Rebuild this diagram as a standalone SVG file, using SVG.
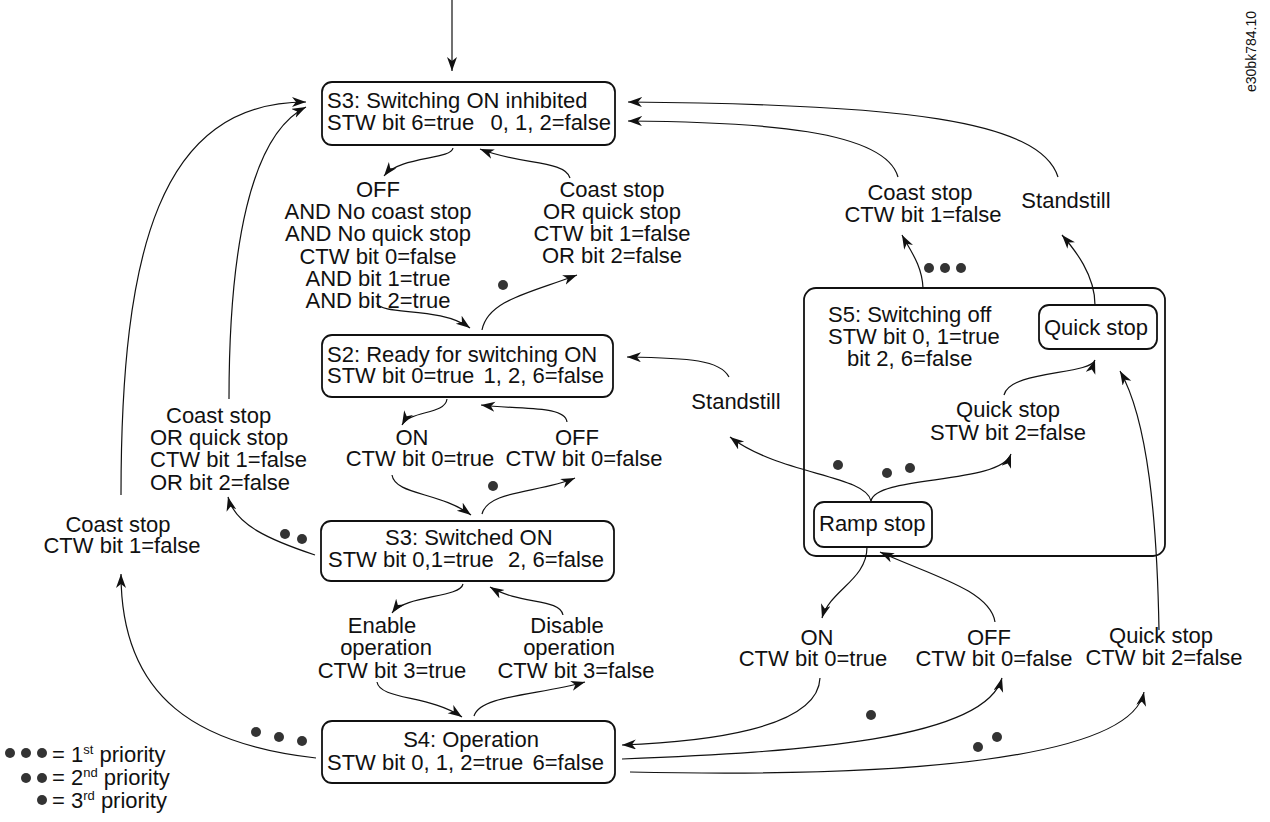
<svg xmlns="http://www.w3.org/2000/svg" width="1270" height="822" viewBox="0 0 1270 822">
<defs>
<marker id="ah" markerUnits="userSpaceOnUse" markerWidth="16" markerHeight="12" refX="14" refY="5" orient="auto">
<path d="M0,0 L14,5 L0,10 L4,5 z" fill="#111"/>
</marker>
<style>
text{font-family:"Liberation Sans",Arial,sans-serif;font-size:22px;fill:#111}
.box{fill:#fff;stroke:#111;stroke-width:1.8}
.c{fill:none;stroke:#111;stroke-width:1.2}
.a{marker-end:url(#ah)}
.m{text-anchor:middle}
.e{text-anchor:end}
.d{fill:#333}
.sup{font-size:13px}
</style>
</defs>
<rect width="1270" height="822" fill="#fff"/>

<g id="S5">
<rect class="box" x="804" y="288" width="361" height="268" rx="12"/>
<text x="828" y="322">S5: Switching off</text>
<text x="828" y="344">STW bit 0, 1=true</text>
<text x="847" y="366">bit 2, 6=false</text>
</g>
<g id="quickstop">
<rect class="box" x="1039" y="305" width="118" height="44" rx="10"/>
<text x="1044" y="335">Quick stop</text>
</g>
<g id="rampstop">
<rect class="box" x="814" y="502" width="118" height="45" rx="10"/>
<text x="819" y="531">Ramp stop</text>
</g>

<g id="S3inhibited">
<rect class="box" x="322" y="82" width="293" height="63" rx="10"/>
<text x="327" y="108">S3: Switching ON inhibited</text>
<text x="327" y="130">STW bit 6=true</text>
<text class="e" x="611" y="130">0, 1, 2=false</text>
</g>
<g id="S2">
<rect class="box" x="322" y="335" width="291" height="62" rx="10"/>
<text x="327" y="362">S2: Ready for switching ON</text>
<text x="327" y="383">STW bit 0=true</text>
<text class="e" x="604" y="383">1, 2, 6=false</text>
</g>
<g id="S3switchedon">
<rect class="box" x="321" y="521" width="293" height="60" rx="10"/>
<text x="385" y="545">S3: Switched ON</text>
<text x="328" y="567">STW bit 0,1=true</text>
<text class="e" x="604" y="567">2, 6=false</text>
</g>
<g id="S4">
<rect class="box" x="322" y="721" width="293" height="62" rx="10"/>
<text class="m" x="471" y="747">S4: Operation</text>
<text x="327" y="770">STW bit 0, 1, 2=true</text>
<text class="e" x="604" y="770">6=false</text>
</g>

<g id="connectors">
<path class="c a" d="M452,0 L452,71"/>
<path class="c a" d="M453,148 C451,160 400,156 384,176"/>
<path class="c a" d="M570,178 C565,160 520,165 480,149"/>
<path class="c a" d="M377,303 C382,316 440,306 470,328"/>
<path class="c a" d="M482,330 C488,300 530,293 577,275"/>
<path class="c a" d="M1058,177 C1040,120 900,104 628,102"/>
<path class="c a" d="M898,177 C885,130 760,122 628,121"/>
<path class="c a" d="M121,495 C121,250 160,102 306,102"/>
<path class="c a" d="M229,399 C229,250 250,135 306,107"/>
<path class="c a" d="M447,399 C445,415 410,410 402,425"/>
<path class="c a" d="M567,422 C565,405 520,410 481,405"/>
<path class="c a" d="M392,475 C395,495 440,492 471,515"/>
<path class="c a" d="M482,514 C488,490 540,493 575,478"/>
<path class="c a" d="M729,377 C720,360 690,358 627,357"/>
<path class="c a" d="M315,555 C270,540 235,525 228,497"/>
<path class="c a" d="M463,584 C460,598 405,595 392,613"/>
<path class="c a" d="M563,615 C560,598 520,605 490,587"/>
<path class="c a" d="M377,682 C380,700 430,695 462,717"/>
<path class="c a" d="M474,716 C480,695 540,695 585,682"/>
<path class="c a" d="M316,758 C200,745 121,700 121,574"/>
<path class="c a" d="M820,678 C818,730 700,742 622,745"/>
<path class="c a" d="M622,759 C800,752 985,740 1002,678"/>
<path class="c a" d="M630,772 C900,778 1130,760 1144,692"/>
<path class="c a" d="M871,501 C866,475 780,475 730,437"/>
<path class="c a" d="M871,501 C876,475 1000,485 1011,454"/>
<path class="c a" d="M1004,395 C1010,370 1090,375 1095,360"/>
<path class="c a" d="M1159,630 C1157,520 1148,420 1120,371"/>
<path class="c a" d="M867,547 C867,580 830,590 822,618"/>
<path class="c a" d="M995,622 C990,590 930,575 880,552"/>
<path class="c a" d="M923,288 C922,265 910,250 902,235"/>
<path class="c a" d="M1095,305 C1095,275 1075,250 1062,235"/>
</g>

<g id="labels">
<text class="m" x="378" y="197">OFF</text>
<text class="m" x="378" y="219">AND No coast stop</text>
<text class="m" x="378" y="241">AND No quick stop</text>
<text class="m" x="378" y="264">CTW bit 0=false</text>
<text class="m" x="378" y="286">AND bit 1=true</text>
<text class="m" x="378" y="308">AND bit 2=true</text>

<text class="m" x="612" y="197">Coast stop</text>
<text class="m" x="612" y="219">OR quick stop</text>
<text class="m" x="612" y="241">CTW bit 1=false</text>
<text class="m" x="612" y="263">OR bit 2=false</text>

<text class="m" x="920" y="200">Coast stop</text>
<text class="m" x="923" y="222">CTW bit 1=false</text>
<text class="m" x="1066" y="208">Standstill</text>

<text class="m" x="736" y="409">Standstill</text>
<text class="m" x="1008" y="417">Quick stop</text>
<text class="m" x="1008" y="440">STW bit 2=false</text>

<text x="166" y="423">Coast stop</text>
<text x="150" y="445">OR quick stop</text>
<text x="150" y="467">CTW bit 1=false</text>
<text x="150" y="490">OR bit 2=false</text>

<text class="m" x="118" y="532">Coast stop</text>
<text class="m" x="122" y="553">CTW bit 1=false</text>

<text class="m" x="412" y="445">ON</text>
<text class="m" x="420" y="466">CTW bit 0=true</text>
<text class="m" x="577" y="445">OFF</text>
<text class="m" x="584" y="466">CTW bit 0=false</text>

<text class="m" x="382" y="633">Enable</text>
<text class="m" x="386" y="655">operation</text>
<text class="m" x="392" y="678">CTW bit 3=true</text>
<text class="m" x="567" y="633">Disable</text>
<text class="m" x="569" y="655">operation</text>
<text class="m" x="576" y="678">CTW bit 3=false</text>

<text class="m" x="817" y="645">ON</text>
<text class="m" x="813" y="666">CTW bit 0=true</text>
<text class="m" x="989" y="645">OFF</text>
<text class="m" x="994" y="666">CTW bit 0=false</text>
<text class="m" x="1161" y="643">Quick stop</text>
<text class="m" x="1164" y="665">CTW bit 2=false</text>
</g>

<g id="priority-dots">
<circle class="d" cx="503" cy="285" r="5"/>
<circle class="d" cx="493" cy="486" r="5"/>
<circle class="d" cx="285" cy="534" r="5"/>
<circle class="d" cx="302" cy="539" r="5"/>
<circle class="d" cx="256" cy="732" r="5"/>
<circle class="d" cx="279" cy="737" r="5"/>
<circle class="d" cx="302" cy="741" r="5"/>
<circle class="d" cx="929" cy="268" r="5"/>
<circle class="d" cx="945" cy="268" r="5"/>
<circle class="d" cx="961" cy="268" r="5"/>
<circle class="d" cx="838" cy="465" r="5"/>
<circle class="d" cx="887" cy="473" r="5"/>
<circle class="d" cx="910" cy="468" r="5"/>
<circle class="d" cx="871" cy="715" r="5"/>
<circle class="d" cx="978" cy="747" r="5"/>
<circle class="d" cx="997" cy="737" r="5"/>
</g>

<g id="legend">
<circle class="d" cx="10" cy="753" r="5"/>
<circle class="d" cx="26" cy="753" r="5"/>
<circle class="d" cx="42" cy="753" r="5"/>
<text x="52" y="762">= 1<tspan class="sup" dy="-8">st</tspan><tspan dy="8"> priority</tspan></text>
<circle class="d" cx="26" cy="778" r="5"/>
<circle class="d" cx="42" cy="778" r="5"/>
<text x="52" y="785">= 2<tspan class="sup" dy="-8">nd</tspan><tspan dy="8"> priority</tspan></text>
<circle class="d" cx="42" cy="800" r="5"/>
<text x="52" y="808">= 3<tspan class="sup" dy="-8">rd</tspan><tspan dy="8"> priority</tspan></text>
</g>

<text x="1256" y="92" transform="rotate(-90 1256 92)" style="font-size:14px">e30bk784.10</text>
</svg>
